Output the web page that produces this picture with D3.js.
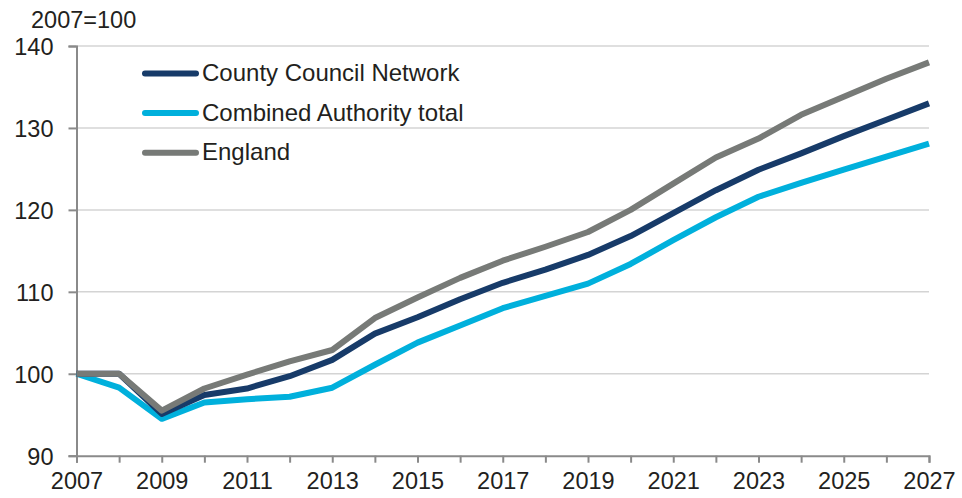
<!DOCTYPE html>
<html><head><meta charset="utf-8">
<script src="https://cdn.jsdelivr.net/npm/d3@7"></script>
<style>html,body{margin:0;padding:0;background:#fff;} svg{display:block;} text{font-family:"Liberation Sans",Arial,sans-serif;fill:#231f20;}</style>
</head><body><svg id="c" width="962" height="498"></svg>
<script>
const years = [2007,2008,2009,2010,2011,2012,2013,2014,2015,2016,2017,2018,2019,2020,2021,2022,2023,2024,2025,2026,2027];
const countyCouncil = [100,100,95.1,97.4,98.2,99.7,101.7,104.9,106.9,109.1,111.1,112.7,114.5,116.8,119.6,122.4,124.9,126.9,129.0,131.0,133.0];
const combinedAuthority = [100,98.3,94.5,96.5,96.9,97.2,98.3,101.1,103.8,105.9,108.0,109.5,111.0,113.4,116.3,119.1,121.6,123.3,124.9,126.5,128.1];
const england = [100,100,95.5,98.2,99.9,101.5,102.9,106.8,109.3,111.7,113.8,115.5,117.3,120.0,123.2,126.4,128.7,131.6,133.8,136.0,138.0];
const seriesNames = ["County Council Network","Combined Authority total","England"];
const seriesColors = ["#173b69","#00b0dc","#777a77"];
const yTicks = [90,100,110,120,130,140];
const xLabelYears = [2007,2009,2011,2013,2015,2017,2019,2021,2023,2025,2027];
const yTitle = "2007=100";

const svg = d3.select("#c");
const x = d3.scaleLinear().domain([2007,2027]).range([76.5,929]);
const y = d3.scaleLinear().domain([90,140]).range([455.7,46]);

// gridlines
svg.append("g").selectAll("line").data(yTicks.filter(v=>v>90)).join("line")
  .attr("x1",x(2007)).attr("x2",x(2027)).attr("y1",d=>y(d)).attr("y2",d=>y(d))
  .attr("stroke","#d4d4d4").attr("stroke-width",1.5);

// y axis
const yAxis = svg.append("g").attr("transform",`translate(${x(2007)},0)`)
  .call(d3.axisLeft(y).tickValues(yTicks).tickSize(8).tickPadding(15).tickFormat(d3.format("d")));
yAxis.select(".domain").attr("stroke","#8a8a8a").attr("stroke-width",2);
yAxis.selectAll(".tick line").attr("stroke","#8a8a8a").attr("stroke-width",2);
yAxis.selectAll(".tick text").attr("font-size",23.5).attr("fill","#231f20").attr("dy","0.36em")
  .style("font-family","'Liberation Sans',Arial,sans-serif");

// x axis
const xAxis = svg.append("g").attr("transform",`translate(0,${y(90)})`)
  .call(d3.axisBottom(x).tickValues(years).tickSize(7).tickPadding(10)
    .tickFormat(d=> xLabelYears.includes(d) ? String(d) : ""));
xAxis.select(".domain").attr("stroke","#8a8a8a").attr("stroke-width",2);
xAxis.selectAll(".tick line").attr("stroke","#8a8a8a").attr("stroke-width",2);
xAxis.selectAll(".tick text").attr("font-size",23.5).attr("fill","#231f20")
  .style("font-family","'Liberation Sans',Arial,sans-serif");

// y title
svg.append("text").attr("x",31).attr("y",28).attr("font-size",23.5).text(yTitle);

// lines
const data = [countyCouncil, combinedAuthority, england];
const line = d3.line().x((d,i)=>x(years[i])).y(d=>y(d));
const order = [1,0,2];
order.forEach(k=>{
  svg.append("path").datum(data[k]).attr("d",line).attr("fill","none")
    .attr("stroke",seriesColors[k]).attr("stroke-width",6)
    .attr("stroke-linejoin","round").attr("stroke-linecap","butt");
});

// legend
const lg = svg.append("g");
seriesNames.forEach((n,i)=>{
  const yy = 73.5 + i*39.6;
  lg.append("line").attr("x1",145).attr("x2",196).attr("y1",yy).attr("y2",yy)
    .attr("stroke",seriesColors[i]).attr("stroke-width",6).attr("stroke-linecap","round");
  lg.append("text").attr("x",202).attr("y",yy+7.5).attr("font-size",24).text(n);
});
</script></body></html>
